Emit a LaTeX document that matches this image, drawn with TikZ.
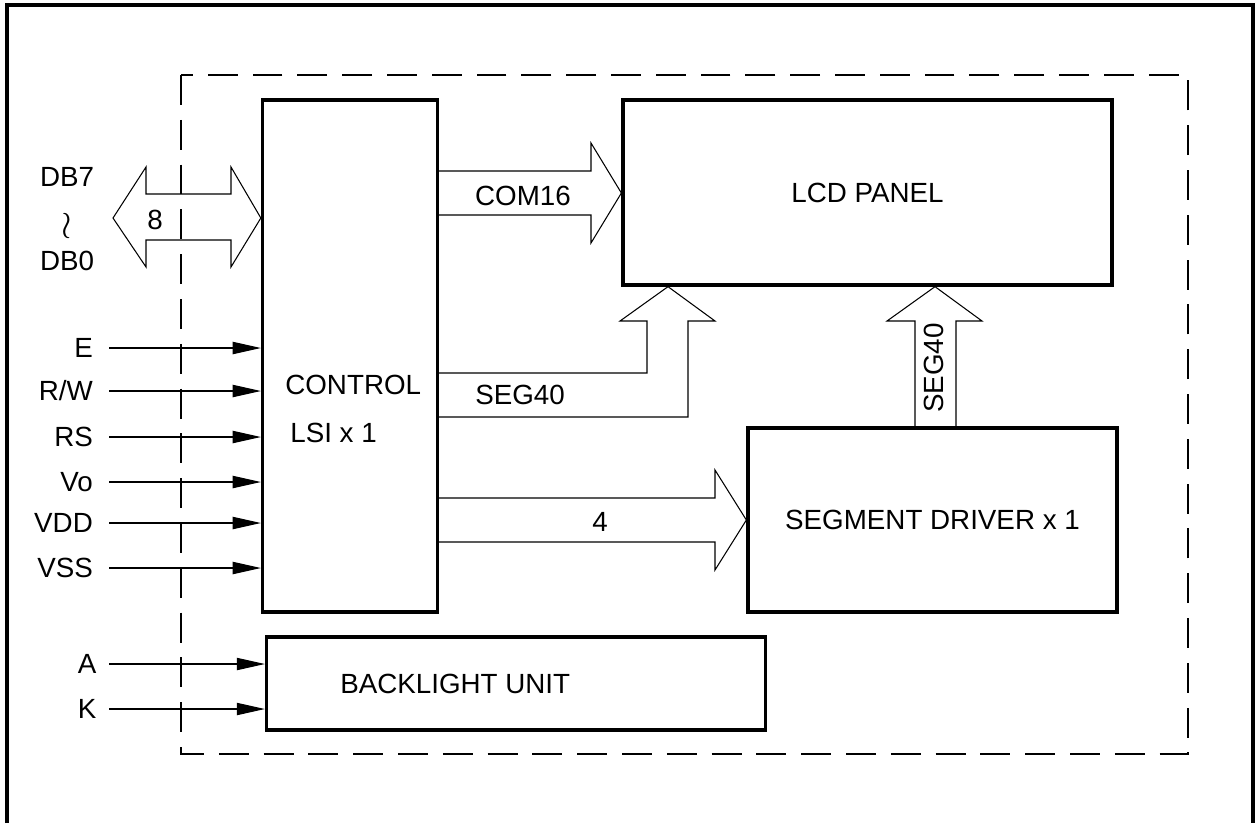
\documentclass[tikz,border=0pt]{standalone}
\usepackage{fontspec}
\setmainfont{Liberation Sans}
\usetikzlibrary{arrows.meta}
\begin{document}
\begin{tikzpicture}[x=0.02cm,y=-0.02cm,
  font=\fontsize{15.8}{19}\selectfont,
  block/.style={draw,line width=1.9pt,inner sep=0pt},
  bus/.style={line width=0.6pt,line join=miter},
  sig/.style={line width=0.6pt,-{Triangle[length=16pt,width=7pt]}},
  pin/.style={anchor=east,inner sep=0pt,inner xsep=9pt},
  txt/.style={inner sep=0pt}]
  \useasboundingbox (0,0) rectangle (1256,823);
  % frame and module outline
  \draw[line width=2.2pt] (7,823) -- (7,5) -- (1253,5) -- (1253,823);
  \draw[line width=0.6pt,dash pattern=on 17pt off 8.5pt] (181,75) rectangle (1188,754);
  % blocks
  \node[block,minimum width=3.5cm,minimum height=10.24cm] (ctrl) at (350,356) {};
  \node[block,minimum width=9.78cm,minimum height=3.7cm] (lcd) at (867.5,192.5) {LCD PANEL};
  \node[block,minimum width=7.38cm,minimum height=3.68cm] (segdrv) at (932.5,520) {SEGMENT DRIVER x 1};
  \node[block,minimum width=9.98cm,minimum height=1.86cm] (blu) at (516,683.5) {};
  \node[txt,anchor=west] (ctrltxt) at (285,385) {CONTROL};
  \node[txt,anchor=west] (lsitxt) at (290,433) {LSI x 1};
  \node[txt,anchor=west] (blutxt) at (340,684) {BACKLIGHT UNIT};
  % data bus
  \draw[bus] (113,218) -- (146,167) -- (146,194) -- (231,194) -- (231,167)
    -- (ctrl.west |- 0,218) -- (231,267) -- (231,240) -- (146,240) -- (146,267) -- cycle;
  \node[txt] (n8) at (155,220) {8};
  \node[txt] (db7) at (67,177) {DB7};
  \node[txt] (dbwr) at (67,226) {\scalebox{1.5}{$\wr$}};
  \node[txt] (db0) at (67,261) {DB0};
  % control inputs
  \node[pin] (e) at (109,348) {E};
  \draw[sig] (e.east) -- (e.east -| ctrl.west);
  \node[pin] (rw) at (109,391) {R/W};
  \draw[sig] (rw.east) -- (rw.east -| ctrl.west);
  \node[pin] (rs) at (109,437) {RS};
  \draw[sig] (rs.east) -- (rs.east -| ctrl.west);
  \node[pin] (vo) at (109,482) {Vo};
  \draw[sig] (vo.east) -- (vo.east -| ctrl.west);
  \node[pin] (vdd) at (109,523) {VDD};
  \draw[sig] (vdd.east) -- (vdd.east -| ctrl.west);
  \node[pin] (vss) at (109,568) {VSS};
  \draw[sig] (vss.east) -- (vss.east -| ctrl.west);
  % backlight inputs
  \node[pin,inner xsep=7pt] (a) at (109,664) {A};
  \draw[sig] (a.east) -- (a.east -| blu.west);
  \node[pin,inner xsep=7pt] (k) at (109,709) {K};
  \draw[sig] (k.east) -- (k.east -| blu.west);
  % COM16
  \draw[bus] (ctrl.east |- 0,171) -- (591,171) -- (591,143) -- (lcd.west |- 0,193)
    -- (591,243) -- (591,215) -- (ctrl.east |- 0,215);
  \node[txt] (com) at (523,196) {COM16};
  % SEG40 from control
  \draw[bus] (ctrl.east |- 0,373) -- (647,373) -- (647,321) -- (620,321)
    -- (668,0 |- lcd.south) -- (715,321) -- (688,321) -- (688,417) -- (ctrl.east |- 0,417);
  \node[txt] (segc) at (520,395) {SEG40};
  % 4 lines to segment driver
  \draw[bus] (ctrl.east |- 0,498) -- (715,498) -- (715,470) -- (segdrv.west |- 0,520)
    -- (715,570) -- (715,542) -- (ctrl.east |- 0,542);
  \node[txt] (n4) at (600,522) {4};
  % SEG40 from segment driver
  \draw[bus] (915,0 |- segdrv.north) -- (915,321) -- (887,321) -- (935,0 |- lcd.south)
    -- (982,321) -- (956,321) -- (956,0 |- segdrv.north);
  \node[txt,rotate=90] (segd) at (934,368) {SEG40};
\end{tikzpicture}
\end{document}
